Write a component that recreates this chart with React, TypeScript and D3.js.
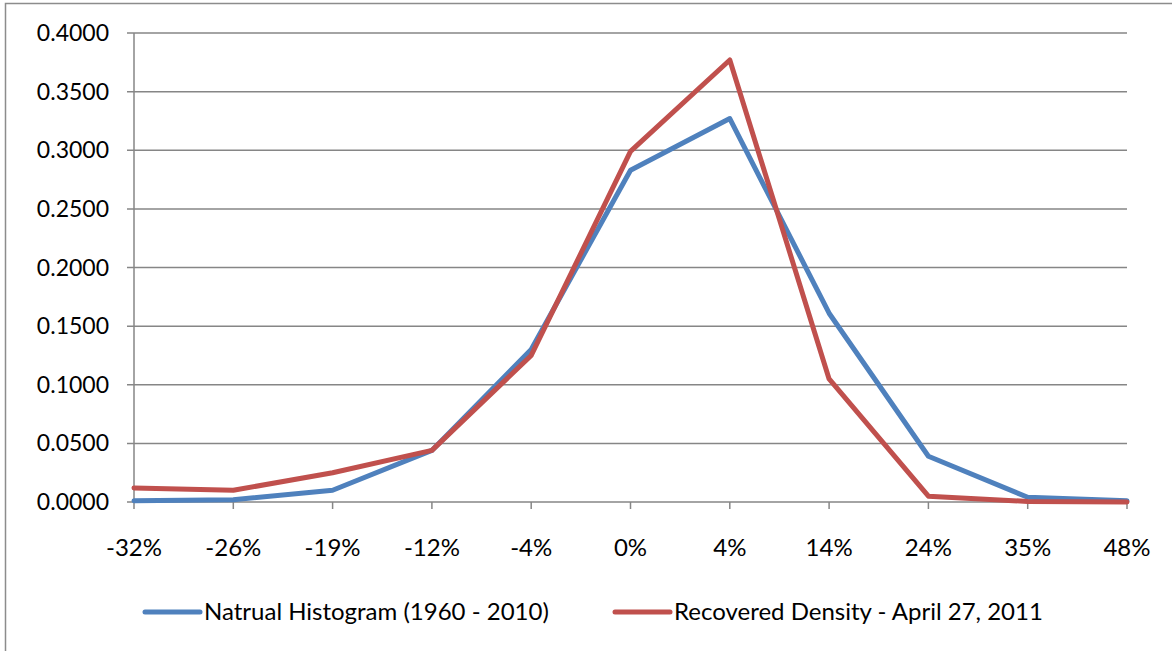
import React, { useEffect, useRef } from 'react';
import * as d3 from 'd3';

const categories = ['-32%', '-26%', '-19%', '-12%', '-4%', '0%', '4%', '14%', '24%', '35%', '48%'];
const naturalHistogram = [0.001, 0.002, 0.010, 0.044, 0.130, 0.283, 0.327, 0.161, 0.039, 0.004, 0.001];
const recoveredDensity = [0.012, 0.010, 0.025, 0.044, 0.125, 0.299, 0.377, 0.105, 0.005, 0.0005, 0.0];
const yTicks = [0, 0.05, 0.1, 0.15, 0.2, 0.25, 0.3, 0.35, 0.4];
const seriesNames = ['Natrual Histogram (1960 - 2010)', 'Recovered Density - April 27, 2011'];
const colors = ['#4F81BD', '#C0504D'];

const W = 1172;
const H = 651;
const FONT = 'Lato, "Open Sans", sans-serif';

export default function App() {
    const ref = useRef<SVGSVGElement | null>(null);

    useEffect(() => {
        if (!ref.current) return;
        const svg = d3.select(ref.current);
        svg.selectAll('*').remove();

        // outer chart border
        svg.append('rect')
            .attr('x', 5.5).attr('y', 3.5)
            .attr('width', W + 10).attr('height', H + 10)
            .attr('fill', 'white')
            .attr('stroke', '#8c8c8c')
            .attr('stroke-width', 1.5);

        const x = d3.scalePoint<string>().domain(categories).range([134, 1127]);
        const y = d3.scaleLinear().domain([0, 0.4]).range([502, 33]);

        // gridlines + y ticks
        svg.append('g')
            .selectAll('line')
            .data(yTicks)
            .enter()
            .append('line')
            .attr('x1', 127).attr('x2', 1127)
            .attr('y1', d => y(d)).attr('y2', d => y(d))
            .attr('stroke', '#868686')
            .attr('stroke-width', 1.5);

        svg.append('g')
            .selectAll('text')
            .data(yTicks)
            .enter()
            .append('text')
            .attr('x', 109)
            .attr('y', d => y(d))
            .attr('dy', '0.35em')
            .attr('text-anchor', 'end')
            .style('font-family', FONT)
            .style('font-size', '23px')
            .attr('fill', '#000')
            .text(d => d.toFixed(4));

        // y axis line
        svg.append('line')
            .attr('x1', 134).attr('x2', 134)
            .attr('y1', 33).attr('y2', 502)
            .attr('stroke', '#868686')
            .attr('stroke-width', 1.5);

        // x tick marks + labels
        const xg = svg.append('g');
        xg.selectAll('line')
            .data(categories)
            .enter()
            .append('line')
            .attr('x1', d => x(d)!).attr('x2', d => x(d)!)
            .attr('y1', 502).attr('y2', 509)
            .attr('stroke', '#868686')
            .attr('stroke-width', 1.5);
        xg.selectAll('text')
            .data(categories)
            .enter()
            .append('text')
            .attr('x', d => x(d)!)
            .attr('y', 548)
            .attr('dy', '0.35em')
            .attr('text-anchor', 'middle')
            .style('font-family', FONT)
            .style('font-size', '24px')
            .attr('fill', '#000')
            .text(d => d);

        // lines
        const line = d3.line<number>()
            .x((_, i) => x(categories[i])!)
            .y(d => y(d));

        [naturalHistogram, recoveredDensity].forEach((vals, i) => {
            svg.append('path')
                .datum(vals)
                .attr('d', line)
                .attr('fill', 'none')
                .attr('stroke', colors[i])
                .attr('stroke-width', 5)
                .attr('stroke-linejoin', 'round')
                .attr('stroke-linecap', 'round');
        });

        // legend
        const legendX = [145, 615];
        seriesNames.forEach((name, i) => {
            const g = svg.append('g').attr('transform', `translate(${legendX[i]},612)`);
            g.append('line')
                .attr('x1', 0).attr('x2', 55)
                .attr('y1', 0).attr('y2', 0)
                .attr('stroke', colors[i])
                .attr('stroke-width', 5)
                .attr('stroke-linecap', 'round');
            g.append('text')
                .attr('x', 59)
                .attr('y', 0)
                .attr('dy', '0.35em')
                .style('font-family', FONT)
                .style('font-size', '24px')
                .attr('fill', '#000')
                .text(name);
        });
    }, []);

    return (
        <svg
            ref={ref}
            width={W}
            height={H}
            style={{ position: 'absolute', left: 0, top: 0, display: 'block' }}
        />
    );
}
